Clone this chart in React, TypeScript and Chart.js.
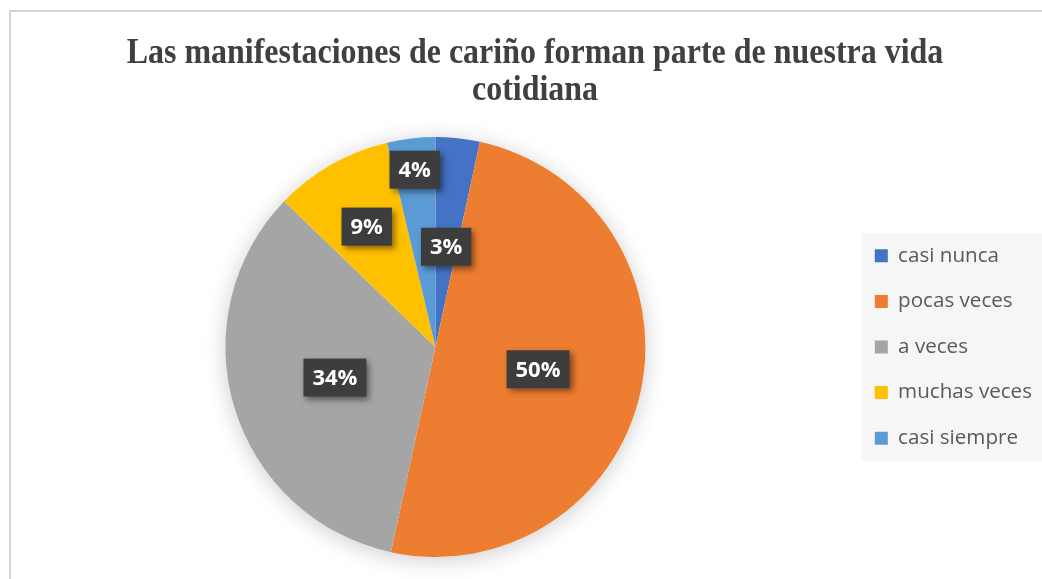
import React, { useEffect, useRef } from "react";
import { Chart, registerables } from "chart.js";

Chart.register(...registerables);

const titleLines = ["Las manifestaciones de cariño forman parte de nuestra vida", "cotidiana"];
const categories = ["casi nunca", "pocas veces", "a veces", "muchas veces", "casi siempre"];
const values = [3.4, 50.0, 33.8, 9.1, 3.7];
const colors = ["#4472C4", "#ED7D31", "#A5A5A5", "#FFC000", "#5B9BD5"];

// label distance from centre as a fraction of the radius (Excel "best fit" look)
const labelRadius = [0.48, 0.5, 0.5, 0.66, 0.85];

const titlePlugin = {
  id: "customTitle",
  afterDraw(chart: any) {
    const ctx = chart.ctx;
    ctx.save();
    ctx.font = 'bold 35px "Liberation Serif"';
    ctx.fillStyle = "#404040";
    ctx.textAlign = "center";
    ctx.textBaseline = "alphabetic";
    const baselines = [63, 100];
    titleLines.forEach((line, i) => {
      ctx.save();
      ctx.translate(535, baselines[i]);
      ctx.scale(0.913, 1);
      ctx.fillText(line, 0, 0);
      ctx.restore();
    });
    ctx.restore();
  },
};

const legendBgPlugin = {
  id: "legendBg",
  beforeDraw(chart: any) {
    const lg = chart.legend;
    if (!lg || !lg.legendHitBoxes || !lg.legendHitBoxes.length) return;
    const hb = lg.legendHitBoxes;
    const first = hb[0];
    const last = hb[hb.length - 1];
    const ctx = chart.ctx;
    ctx.save();
    ctx.fillStyle = "#f6f6f6";
    const x0 = first.left - 13;
    const y0 = first.top - 12;
    const y1 = last.top + last.height + 13;
    ctx.fillRect(x0, y0, chart.width - x0, y1 - y0);
    ctx.restore();
  },
};

const pieShadowPlugin = {
  id: "pieShadow",
  beforeDatasetsDraw(chart: any) {
    const meta = chart.getDatasetMeta(0);
    const arc = meta.data[0];
    if (!arc) return;
    const { x, y, outerRadius } = arc.getProps(["x", "y", "outerRadius"], true);
    const ctx = chart.ctx;
    ctx.save();
    ctx.shadowColor = "rgba(0,0,0,0.2)";
    ctx.shadowBlur = 22;
    ctx.shadowOffsetY = 3;
    ctx.fillStyle = "#ffffff";
    ctx.beginPath();
    ctx.arc(x, y, outerRadius, 0, Math.PI * 2);
    ctx.fill();
    ctx.restore();
  },
};

const dataLabelPlugin = {
  id: "boxLabels",
  afterDatasetsDraw(chart: any) {
    const meta = chart.getDatasetMeta(0);
    const ds = chart.data.datasets[0].data as number[];
    const total = ds.reduce((a, b) => a + b, 0);
    const ctx = chart.ctx;
    ctx.save();
    ctx.font = 'bold 22px "Open Sans"';
    meta.data.forEach((arc: any, i: number) => {
      const { x, y, startAngle, endAngle, outerRadius } = arc.getProps(
        ["x", "y", "startAngle", "endAngle", "outerRadius"],
        true
      );
      const mid = (startAngle + endAngle) / 2;
      const r = outerRadius * labelRadius[i];
      const lx = x + Math.cos(mid) * r;
      const ly = y + Math.sin(mid) * r;
      const text = Math.round((ds[i] / total) * 100) + "%";
      const tw = ctx.measureText(text).width;
      const w = tw + 18;
      const h = 38;
      ctx.save();
      ctx.shadowColor = "rgba(0,0,0,0.45)";
      ctx.shadowBlur = 6;
      ctx.shadowOffsetX = 3;
      ctx.shadowOffsetY = 3;
      ctx.fillStyle = "#3d3d3d";
      ctx.fillRect(lx - w / 2, ly - h / 2, w, h);
      ctx.restore();
      ctx.fillStyle = "#ffffff";
      ctx.textAlign = "center";
      ctx.textBaseline = "middle";
      ctx.fillText(text, lx, ly + 1);
    });
    ctx.restore();
  },
};

export default function App() {
  const canvasRef = useRef<HTMLCanvasElement | null>(null);

  useEffect(() => {
    if (!canvasRef.current) return;
    const chart = new Chart(canvasRef.current, {
      type: "pie",
      data: {
        labels: categories,
        datasets: [
          {
            data: values,
            backgroundColor: colors,
            borderWidth: 0,
          },
        ],
      },
      options: {
        responsive: false,
        animation: false,
        layout: { padding: { top: 137, bottom: 22, left: 21, right: 0 } },
        plugins: {
          title: { display: false },
          tooltip: { enabled: false },
          legend: {
            position: "right",
            align: "center",
            labels: {
              boxWidth: 13,
              boxHeight: 13,
              padding: 25,
              color: "#595959",
              font: { family: '"Open Sans"', size: 20.6 },
            },
          },
        },
      },
      plugins: [legendBgPlugin, pieShadowPlugin, dataLabelPlugin, titlePlugin],
    });
    return () => chart.destroy();
  }, []);

  return (
    <div style={{ position: "fixed", left: 0, top: 0, width: 1042, height: 579, background: "#ffffff" }}>
      <div
        style={{
          position: "absolute",
          left: 9,
          top: 10,
          width: 1042 - 9,
          height: 579 - 10,
          borderTop: "2px solid #d4d4d4",
          borderLeft: "2px solid #d4d4d4",
          boxSizing: "border-box",
        }}
      />
      <canvas
        ref={canvasRef}
        width={1042}
        height={579}
        style={{ position: "absolute", left: 0, top: 0, width: 1042, height: 579, display: "block" }}
      />
    </div>
  );
}
